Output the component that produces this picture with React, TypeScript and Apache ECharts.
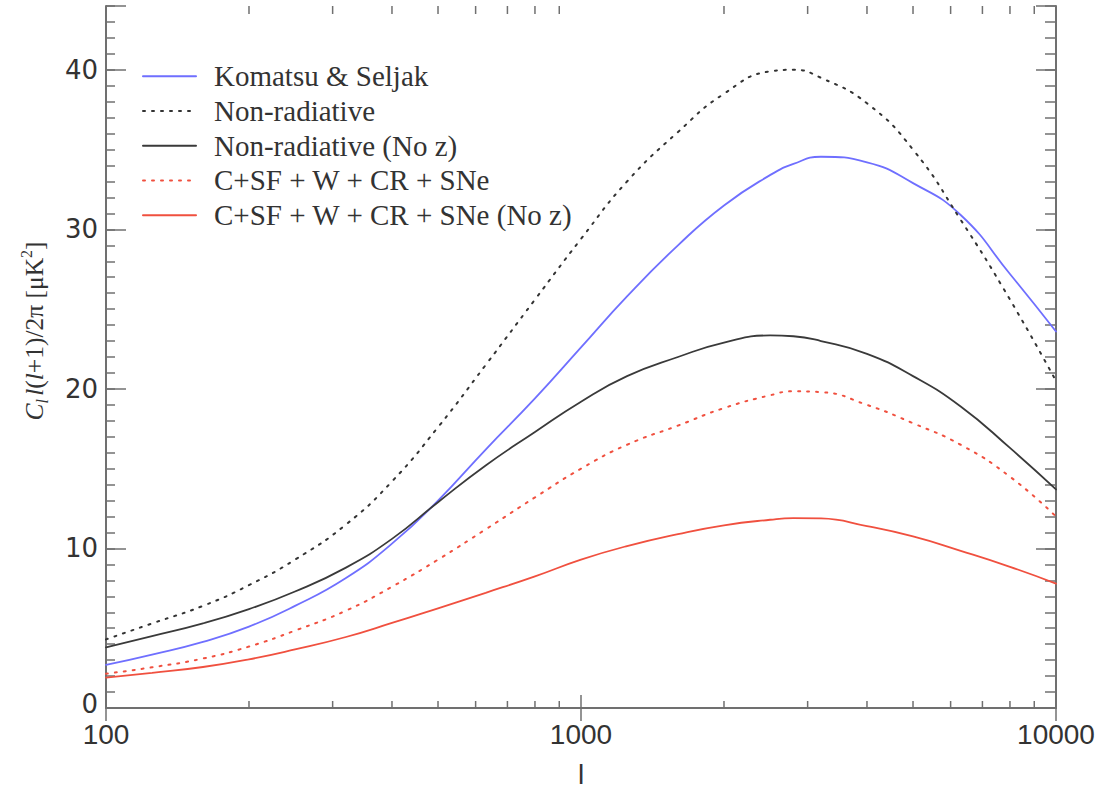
import React, { useEffect, useRef } from "react";
import * as echarts from "echarts";

// multipole l
const ell = [100, 125, 160, 200, 250, 320, 400, 500, 630, 800, 1000, 1250, 1600, 2000, 2500, 2800, 3200, 4000, 5000, 6300, 8000, 10000];
// C_l l(l+1)/2pi [uK^2]
const komatsuSeljak = [2.7, 3.35, 4.15, 5.1, 6.4, 8.15, 10.3, 13.0, 16.2, 19.4, 22.6, 25.8, 29.0, 31.5, 33.4, 34.1, 34.55, 34.2, 32.9, 30.9, 27.2, 23.6];
const nonRadiative = [4.3, 5.3, 6.4, 7.7, 9.3, 11.5, 14.2, 17.6, 21.5, 25.6, 29.4, 33.0, 36.1, 38.5, 39.9, 40.0, 39.5, 37.9, 35.0, 30.6, 25.6, 20.5];
const nonRadiativeNoZ = [3.8, 4.5, 5.3, 6.2, 7.3, 8.8, 10.6, 12.9, 15.2, 17.3, 19.2, 20.8, 22.0, 22.9, 23.35, 23.3, 23.0, 22.2, 20.8, 18.9, 16.3, 13.7];
const fullPhysics = [2.15, 2.55, 3.1, 3.85, 4.85, 6.1, 7.6, 9.3, 11.2, 13.2, 15.0, 16.5, 17.7, 18.8, 19.6, 19.85, 19.8, 19.0, 17.85, 16.5, 14.5, 12.0];
const fullPhysicsNoZ = [1.9, 2.2, 2.57, 3.05, 3.67, 4.45, 5.33, 6.25, 7.22, 8.25, 9.3, 10.15, 10.9, 11.45, 11.8, 11.9, 11.88, 11.4, 10.75, 9.85, 8.85, 7.8];

const seriesNames = [
  "Komatsu & Seljak",
  "Non-radiative",
  "Non-radiative (No z)",
  "C+SF + W + CR + SNe",
  "C+SF + W + CR + SNe (No z)",
];

// minor tick positions of the log axis
const xMinorTicks = [200, 300, 400, 500, 600, 700, 800, 900, 2000, 3000, 4000, 5000, 6000, 7000, 8000, 9000];

const yMin = 0;
const yMax = 44;

export default function App() {
  const ref = useRef<HTMLDivElement>(null);

  useEffect(() => {
    const chart = echarts.init(ref.current!, null, { renderer: "svg" });
    const mk = (arr: number[]) => ell.map((l, i) => [l, arr[i]]);
    const axisColor = "#707070";
    const labelColor = "#333333";
    const serif = "Liberation Serif";
    const sans = "Liberation Sans";

    const lineSeries = (name: string, data: number[], color: string, dotted: boolean) => ({
      name,
      type: "line",
      xAxisIndex: 0,
      yAxisIndex: 0,
      data: mk(data),
      symbol: "none",
      smooth: 0.5,
      lineStyle: { color, width: dotted ? 2 : 1.8, type: dotted ? [2, 7] : "solid", cap: "round" },
      itemStyle: { color },
      z: 2,
    });

    const option: any = {
      animation: false,
      backgroundColor: "#ffffff",
      grid: { left: 106, top: 6, right: 46, bottom: 75 },
      legend: {
        orient: "vertical",
        left: 142,
        top: 61,
        padding: 0,
        itemWidth: 53,
        itemHeight: 14,
        itemGap: 4,
        itemStyle: { opacity: 0 },
        data: seriesNames,
        textStyle: {
          fontFamily: serif,
          fontSize: 29,
          color: labelColor,
          lineHeight: 30.7,
          padding: [0, 0, 0, 13],
        },
      },
      xAxis: [
        {
          type: "log",
          logBase: 10,
          min: 100,
          max: 10000,
          position: "bottom",
          axisLine: { lineStyle: { color: axisColor, width: 2 } },
          axisTick: { inside: true, length: 13, lineStyle: { color: axisColor, width: 1.5 } },
          axisLabel: {
            margin: 12,
            fontSize: 28,
            fontFamily: sans,
            color: labelColor,
            formatter: (v: number) => String(Math.round(v)),
          },
          splitLine: { show: false },
          name: "l",
          nameLocation: "middle",
          nameGap: 52,
          nameTextStyle: { fontFamily: sans, fontSize: 28, color: labelColor },
        },
        {
          type: "log",
          logBase: 10,
          min: 100,
          max: 10000,
          position: "top",
          axisLine: { lineStyle: { color: axisColor, width: 2 } },
          axisTick: { inside: true, length: 13, lineStyle: { color: axisColor, width: 1.5 } },
          axisLabel: { show: false },
          splitLine: { show: false },
        },
      ],
      yAxis: [
        {
          type: "value",
          min: yMin,
          max: yMax,
          interval: 1,
          position: "left",
          axisLine: { show: true, lineStyle: { color: axisColor, width: 2 } },
          axisTick: { inside: true, length: 9, lineStyle: { color: axisColor, width: 1.5 } },
          axisLabel: {
            margin: 8,
            fontSize: 26,
            fontFamily: "DejaVu Sans",
            color: labelColor,
            formatter: (v: number) => (v % 10 === 0 ? (v === 0 ? "{z|0}" : String(v)) : ""),
            rich: { z: { fontSize: 26, fontFamily: "DejaVu Sans", color: labelColor, padding: [0, 0, 8, 0] } },
          },
          splitLine: { show: false },
        },
        {
          type: "value",
          min: yMin,
          max: yMax,
          interval: 10,
          position: "left",
          axisLine: { show: false },
          axisTick: { inside: true, length: 20, lineStyle: { color: axisColor, width: 1.5 } },
          axisLabel: { show: false },
          splitLine: { show: false },
        },
        {
          type: "value",
          min: yMin,
          max: yMax,
          interval: 1,
          position: "right",
          axisLine: { show: true, lineStyle: { color: axisColor, width: 2 } },
          axisTick: { inside: true, length: 11, lineStyle: { color: axisColor, width: 1.5 } },
          axisLabel: { show: false },
          splitLine: { show: false },
        },
        {
          type: "value",
          min: yMin,
          max: yMax,
          interval: 10,
          position: "right",
          axisLine: { show: false },
          axisTick: { inside: true, length: 20, lineStyle: { color: axisColor, width: 1.5 } },
          axisLabel: { show: false },
          splitLine: { show: false },
        },
      ],
      graphic: [
        {
          type: "text",
          x: 34,
          y: 331,
          rotation: Math.PI / 2,
          style: {
            text: "{i|C}{s|l} {i|l}{n|(}{i|l}{n|+1)/2π [μK}{p|2}{n|]}",
            align: "center",
            verticalAlign: "middle",
            fill: labelColor,
            rich: {
              i: { fontFamily: serif, fontStyle: "italic", fontSize: 25.5, lineHeight: 32, fill: labelColor },
              n: { fontFamily: serif, fontSize: 25.5, lineHeight: 32, fill: labelColor },
              s: { fontFamily: serif, fontStyle: "italic", fontSize: 16, lineHeight: 16, verticalAlign: "bottom", fill: labelColor },
              p: { fontFamily: serif, fontSize: 16, lineHeight: 16, verticalAlign: "top", fill: labelColor },
            },
          },
        },
      ],
      series: [
        lineSeries(seriesNames[0], komatsuSeljak, "#6f6fff", false),
        lineSeries(seriesNames[1], nonRadiative, "#333333", true),
        lineSeries(seriesNames[2], nonRadiativeNoZ, "#3a3a3a", false),
        lineSeries(seriesNames[3], fullPhysics, "#f0503f", true),
        lineSeries(seriesNames[4], fullPhysicsNoZ, "#f0503f", false),
        {
          name: "minorTicks",
          type: "custom",
          xAxisIndex: 0,
          yAxisIndex: 0,
          silent: true,
          data: xMinorTicks.map((v) => [v, 0]),
          renderItem: (params: any, api: any) => {
            const x = api.coord([api.value(0), 0])[0];
            const cs = params.coordSys;
            const st = { stroke: axisColor, lineWidth: 1.5 };
            return {
              type: "group",
              children: [
                { type: "line", shape: { x1: x, y1: cs.y + cs.height, x2: x, y2: cs.y + cs.height - 7 }, style: st },
                { type: "line", shape: { x1: x, y1: cs.y, x2: x, y2: cs.y + 8 }, style: st },
              ],
            };
          },
          z: 3,
        },
      ],
    };

    chart.setOption(option);
    return () => chart.dispose();
  }, []);

  return (
    <div
      ref={ref}
      style={{ position: "absolute", left: 0, top: 0, width: 1102, height: 793, background: "#fff" }}
    />
  );
}
